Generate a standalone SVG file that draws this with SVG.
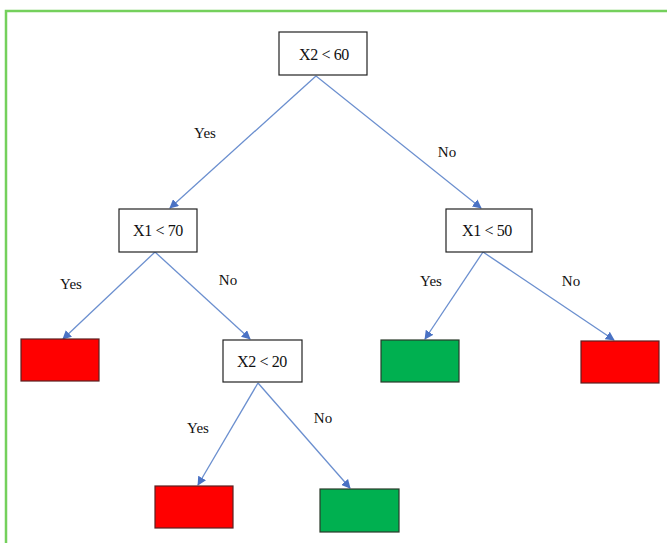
<svg xmlns="http://www.w3.org/2000/svg" width="667" height="543" viewBox="0 0 667 543">
<style>
.box{fill:#fff;stroke:#222;stroke-width:1.2}
.red{fill:#ff0000;stroke:#5a2020;stroke-width:1.2}
.green{fill:#00b050;stroke:#2a3a2a;stroke-width:1.2}
.t{font-family:"Liberation Serif","Times New Roman",serif;font-size:16px;fill:#111;text-anchor:middle;dominant-baseline:central;letter-spacing:-0.4px}
.lbl{font-family:"Liberation Serif","Times New Roman",serif;font-size:15px;fill:#111;text-anchor:middle;dominant-baseline:central}
.e{stroke:#6b8fcf;stroke-width:1.3;fill:none;marker-end:url(#ah)}
</style>
<defs>
<marker id="ah" viewBox="0 0 10 10" refX="9" refY="5" markerWidth="9" markerHeight="9" markerUnits="userSpaceOnUse" orient="auto">
<path d="M0,0 L10,5 L0,10 z" fill="#4a72c4"/>
</marker>
</defs>
<rect x="0" y="0" width="667" height="543" fill="#fff"/>
<path d="M6,543 V11 H667" fill="none" stroke="#74d05c" stroke-width="2.5"/>
<g id="connectors">
<line class="e" x1="316" y1="76" x2="170" y2="208"/>
<line class="e" x1="316" y1="76" x2="481" y2="208"/>
<line class="e" x1="155" y1="252" x2="63" y2="339"/>
<line class="e" x1="155" y1="252" x2="250" y2="339"/>
<line class="e" x1="483" y1="252" x2="425" y2="339"/>
<line class="e" x1="483" y1="252" x2="614" y2="340"/>
<line class="e" x1="258" y1="383" x2="198" y2="485"/>
<line class="e" x1="258" y1="383" x2="350" y2="488"/>
<text class="lbl" x="205" y="133">Yes</text>
<text class="lbl" x="447" y="152">No</text>
<text class="lbl" x="71" y="284">Yes</text>
<text class="lbl" x="228" y="280">No</text>
<text class="lbl" x="431" y="281">Yes</text>
<text class="lbl" x="571" y="281">No</text>
<text class="lbl" x="198" y="428">Yes</text>
<text class="lbl" x="323" y="418">No</text>
</g>
<g id="n_root"><rect class="box" x="279" y="32" width="88" height="43"/><text class="t" x="324" y="54">X2 &lt; 60</text></g>
<g id="n_x1_70"><rect class="box" x="119" y="209" width="78" height="43"/><text class="t" x="158" y="230">X1 &lt; 70</text></g>
<g id="n_x1_50"><rect class="box" x="446" y="209" width="86" height="43"/><text class="t" x="487" y="230">X1 &lt; 50</text></g>
<g id="n_x2_20"><rect class="box" x="223" y="340" width="79" height="42"/><text class="t" x="262" y="361">X2 &lt; 20</text></g>
<g id="leaf1"><rect class="red" x="21" y="339" width="78" height="42"/></g>
<g id="leaf2"><rect class="green" x="381" y="340" width="78" height="42"/></g>
<g id="leaf3"><rect class="red" x="581" y="341" width="78" height="42"/></g>
<g id="leaf4"><rect class="red" x="155" y="486" width="78" height="42"/></g>
<g id="leaf5"><rect class="green" x="320" y="489" width="79" height="43"/></g>
</svg>
